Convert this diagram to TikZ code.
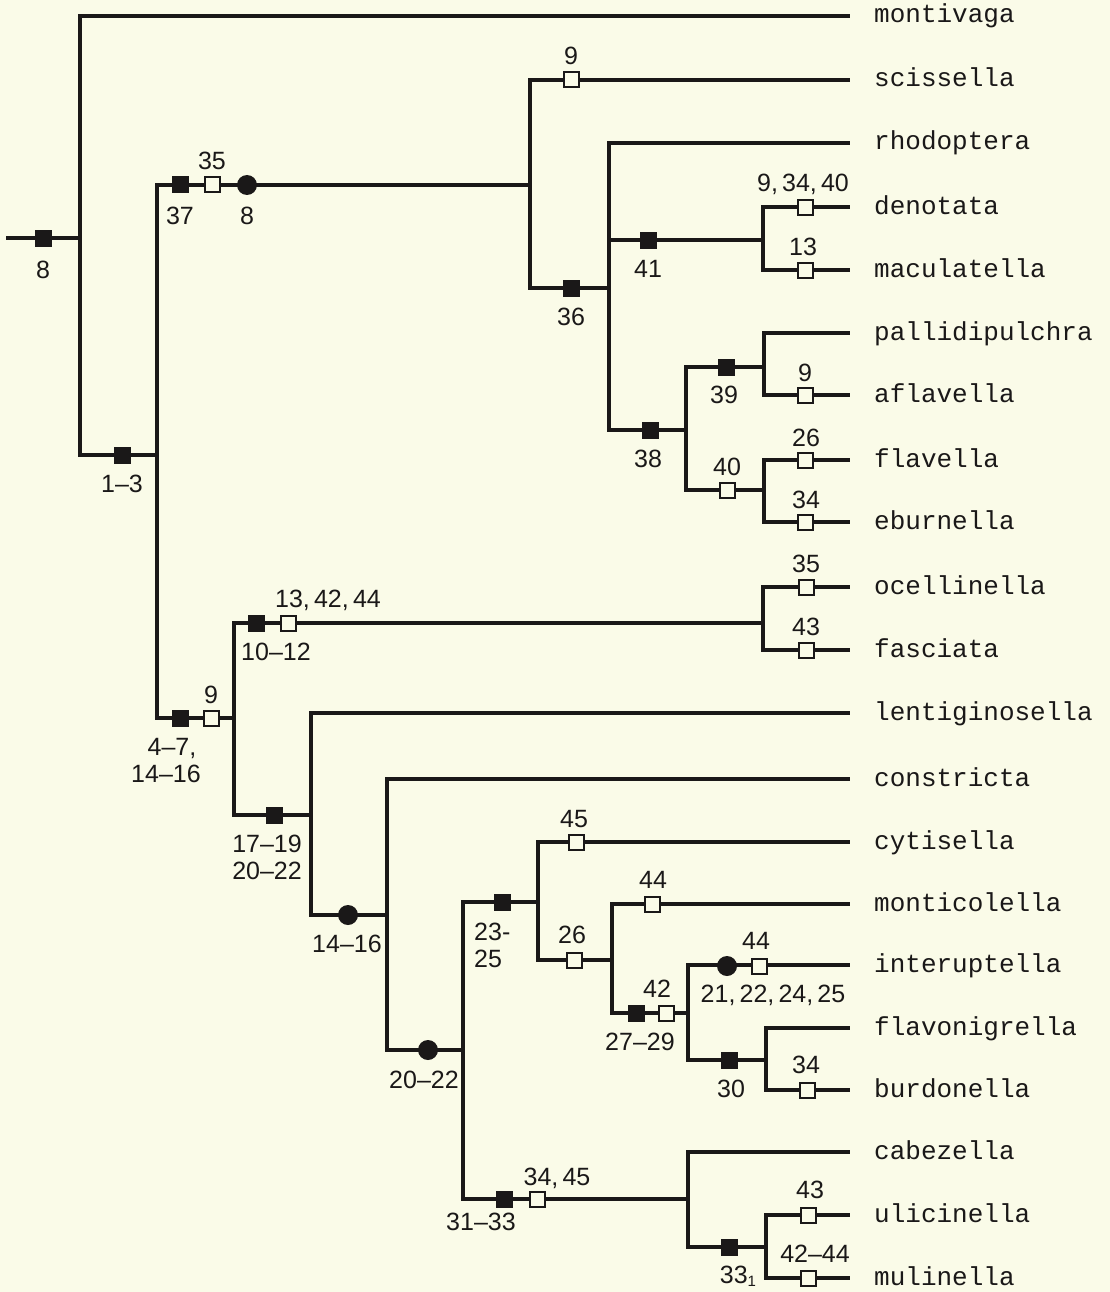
\documentclass[tikz,border=0pt]{standalone}
\usepackage{fontspec}
\newfontfamily\spfont{Liberation Mono}
\newfontfamily\numfont{Liberation Sans}
\definecolor{bg}{RGB}{250,251,232}
\definecolor{ink}{RGB}{26,24,24}
\begin{document}
\begin{tikzpicture}[x=1pt,y=-1pt,
  br/.style={draw=ink,line width=3.2pt,line join=miter,line cap=rect},
  bsq/.style={rectangle,fill=ink,draw=none,minimum size=17pt,inner sep=0pt},
  osq/.style={rectangle,fill=bg,draw=ink,line width=2pt,minimum size=15pt,inner sep=0pt},
  bdot/.style={circle,fill=ink,draw=none,minimum size=20pt,inner sep=0pt},
  num/.style={font=\fontsize{25}{27}\selectfont\numfont,text=ink,inner sep=0pt,anchor=base},
  sp/.style={font=\fontsize{26}{28}\selectfont\spfont,text=ink,inner sep=0pt,anchor=base west}]
\useasboundingbox (0,0) rectangle (1110,1292);
\fill[bg] (0,0) rectangle (1110,1292);

% ---- junctions
\coordinate (r0) at (8,238);
\coordinate (J1) at (80,238);
\coordinate (J2) at (157,455);
\coordinate (J3) at (530,185);
\coordinate (J4) at (609,288);
\coordinate (J5) at (763,240);
\coordinate (J6) at (686,430);
\coordinate (J7) at (764,367);
\coordinate (J8) at (764,490);
\coordinate (J9) at (234,718);
\coordinate (J10) at (763,623);
\coordinate (J11) at (311,815);
\coordinate (J12) at (387,915);
\coordinate (J13) at (463,1050);
\coordinate (J14) at (538,902);
\coordinate (J15) at (612,960);
\coordinate (J16) at (688,1013);
\coordinate (J17) at (766,1060);
\coordinate (J18) at (688,1199);
\coordinate (J19) at (766,1247);
\coordinate (J4m) at (609,240);

% ---- leaf ends
\foreach \i/\y in {1/16,2/80,3/143,4/207,5/270,6/333,7/395,8/460,9/522,10/587,11/650,
  12/713,13/779,14/842,15/904,16/965,17/1028,18/1090,19/1152,20/1215,21/1278}
  \coordinate (L\i) at (848,\y);

% ---- branches
\draw[br] (r0) -- (J1);
\draw[br] (L1) -| (J1) |- (J2);
\draw[br] (J3) -| (J2) |- (J9);
\draw[br] (L2) -| (J3) |- (J4);
\draw[br] (L3) -| (J4) |- (J6);
\draw[br] (J4m) -- (J5);
\draw[br] (L4) -| (J5) |- (L5);
\draw[br] (J7) -| (J6) |- (J8);
\draw[br] (L6) -| (J7) |- (L7);
\draw[br] (L8) -| (J8) |- (L9);
\draw[br] (J10) -| (J9) |- (J11);
\draw[br] (L10) -| (J10) |- (L11);
\draw[br] (L12) -| (J11) |- (J12);
\draw[br] (L13) -| (J12) |- (J13);
\draw[br] (J14) -| (J13) |- (J18);
\draw[br] (L14) -| (J14) |- (J15);
\draw[br] (L15) -| (J15) |- (J16);
\draw[br] (L16) -| (J16) |- (J17);
\draw[br] (L17) -| (J17) |- (L18);
\draw[br] (L19) -| (J18) |- (J19);
\draw[br] (L20) -| (J19) |- (L21);

% ---- character markers
\node[bsq] (m1) at (43,238) {};
\node[num] (t1) at (43,278) {8};
\node[bsq] (m2) at (122,455) {};
\node[num] (t2) at (122,492) {1–3};
\node[bsq] (m3) at (180,185) {};
\node[num] (t3) at (180,224) {37};
\node[osq] (m4) at (212,185) {};
\node[num] (t4) at (212,170) {35};
\node[bdot] (m5) at (247,185) {};
\node[num] (t5) at (247,224) {8};
\node[osq] (m6) at (571,80) {};
\node[num] (t6) at (571,65) {9};
\node[bsq] (m7) at (571,288) {};
\node[num] (t7) at (571,325) {36};
\node[bsq] (m8) at (648,240) {};
\node[num] (t8) at (648,277) {41};
\node[osq] (m9) at (805,207) {};
\node[num] (t9) at (803,191) {9,\,34,\,40};
\node[osq] (m10) at (805,270) {};
\node[num] (t10) at (803,255) {13};
\node[bsq] (m11) at (650,430) {};
\node[num] (t11) at (648,467) {38};
\node[bsq] (m12) at (726,367) {};
\node[num] (t12) at (724,403) {39};
\node[osq] (m13) at (805,395) {};
\node[num] (t13) at (805,381) {9};
\node[osq] (m14) at (727,490) {};
\node[num] (t14) at (727,475) {40};
\node[osq] (m15) at (805,460) {};
\node[num] (t15) at (806,446) {26};
\node[osq] (m16) at (805,522) {};
\node[num] (t16) at (806,508) {34};
% lower clade
\node[bsq] (m17) at (180,718) {};
\node[osq] (m18) at (211,718) {};
\node[num] (t18) at (211,703) {9};
\node[num] (t17a) at (172,755) {4–7,};
\node[num] (t17b) at (166,782) {14–16};
\node[bsq] (m19) at (256,623) {};
\node[num] (t19) at (276,660) {10–12};
\node[osq] (m20) at (288,623) {};
\node[num] (t20) at (328,607) {13,\,42,\,44};
\node[osq] (m21) at (806,587) {};
\node[num] (t21) at (806,572) {35};
\node[osq] (m22) at (806,650) {};
\node[num] (t22) at (806,635) {43};
\node[bsq] (m23) at (274,815) {};
\node[num,anchor=base east] (t23a) at (302,852) {17–19};
\node[num,anchor=base east] (t23b) at (302,879) {20–22};
\node[bdot] (m24) at (348,915) {};
\node[num] (t24) at (347,952) {14–16};
\node[bdot] (m25) at (428,1050) {};
\node[num] (t25) at (424,1088) {20–22};
\node[bsq] (m26) at (502,902) {};
\node[num,anchor=base west] (t26a) at (474,940) {23-};
\node[num,anchor=base west] (t26b) at (474,967) {25};
\node[osq] (m27) at (576,842) {};
\node[num] (t27) at (574,827) {45};
\node[osq] (m28) at (574,960) {};
\node[num] (t28) at (572,943) {26};
\node[osq] (m29) at (652,904) {};
\node[num] (t29) at (653,888) {44};
\node[bsq] (m30) at (636,1013) {};
\node[num] (t30) at (640,1050) {27–29};
\node[osq] (m31) at (666,1013) {};
\node[num] (t31) at (657,997) {42};
\node[bdot] (m32) at (727,966) {};
\node[osq] (m33) at (759,966) {};
\node[num] (t33) at (756,949) {44};
\node[num] (t32) at (773,1002) {21,\,22,\,24,\,25};
\node[bsq] (m34) at (729,1060) {};
\node[num] (t34) at (731,1097) {30};
\node[osq] (m35) at (807,1090) {};
\node[num] (t35) at (806,1073) {34};
\node[bsq] (m36) at (504,1199) {};
\node[num] (t36) at (481,1230) {31–33};
\node[osq] (m37) at (537,1199) {};
\node[num] (t37) at (557,1185) {34,\,45};
\node[bsq] (m38) at (729,1247) {};
\node[num] (t38) at (738,1283) {33\raisebox{-3pt}{\fontsize{15}{15}\selectfont 1}};
\node[osq] (m39) at (808,1215) {};
\node[num] (t39) at (810,1198) {43};
\node[osq] (m40) at (808,1278) {};
\node[num] (t40) at (815,1262) {42–44};

% ---- species names
\foreach \i/\n in {1/montivaga,2/scissella,3/rhodoptera,4/denotata,5/maculatella,
  6/pallidipulchra,7/aflavella,8/flavella,9/eburnella,10/ocellinella,11/fasciata,
  12/lentiginosella,13/constricta,14/cytisella,15/monticolella,16/interuptella,
  17/flavonigrella,18/burdonella,19/cabezella,20/ulicinella,21/mulinella}
  \node[sp] (s\i) at ([xshift=26pt,yshift=-7pt]L\i) {\n};
\end{tikzpicture}
\end{document}
